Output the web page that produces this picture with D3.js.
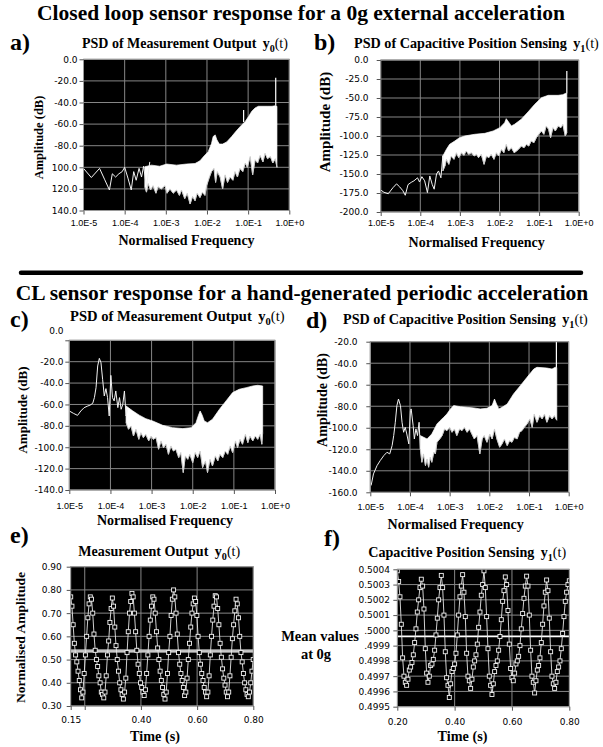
<!DOCTYPE html>
<html><head><meta charset="utf-8">
<script src="https://cdn.jsdelivr.net/npm/d3@7"></script>
<style>body{margin:0;background:#fff}svg{display:block}</style>
</head><body>
<svg id="chart" width="603" height="747"></svg>
<script>
// ---------------- DATA ----------------
const decadeTicks = [1e-5, 1e-4, 1e-3, 1e-2, 1e-1, 1];
const decadeLabels = ["1.0E-5", "1.0E-4", "1.0E-3", "1.0E-2", "1.0E-1", "1.0E+0"];

// Panel a : PSD of measurement output, 0g  (frequencies as log10 of normalised frequency)
const aYTicks = [0, -20, -40, -60, -80, -100, -120, -140];
const aYLabels = ["0.0", "-20.0", "-40.0", "-60.0", "-80.0", "100.0", "120.0", "140.0"];
const aLineLogF = [-5.00,-4.81,-4.61,-4.49,-4.37,-4.30,-4.22,-4.14,-4.06,-4.00,-3.92,-3.84,-3.78,-3.72,-3.65,-3.59,-3.54,-3.47,-3.39];
const aLineDb = [-101,-109.5,-101,-111,-121,-106,-109,-106,-104,-100,-110,-121,-104,-112,-101,-109,-99,-118,-95];
const aUpperLogF = [-3.51,-3.35,-3.15,-2.98,-2.74,-2.50,-2.29,-2.17,-2.07,-1.97,-1.89,-1.85,-1.80,-1.76,-1.70,-1.62,-1.52,-1.40,-1.28,-1.15,-1.07,-0.99,-0.91,-0.83,-0.75,-0.54,-0.42,-0.34,-0.30];
const aUpperDb = [-99.5,-98,-99,-97,-98,-97,-96.5,-94,-89.5,-85.5,-78,-71.5,-70,-74.5,-78.5,-78.5,-76.5,-71.5,-66,-60.5,-57.5,-53,-48,-45,-43.5,-43.5,-43.5,-43,-43.5];
const aLowerLogF = [-3.51,-3.47,-3.43,-3.37,-3.31,-3.24,-3.19,-3.11,-3.02,-2.97,-2.90,-2.82,-2.74,-2.67,-2.62,-2.54,-2.48,-2.41,-2.35,-2.29,-2.24,-2.17,-2.11,-2.05,-2.01,-1.94,-1.89,-1.83,-1.79,-1.75,-1.68,-1.62,-1.56,-1.50,-1.44,-1.37,-1.32,-1.26,-1.20,-1.13,-1.07,-1.02,-0.95,-0.89,-0.83,-0.77,-0.71,-0.64,-0.59,-0.53,-0.46,-0.40,-0.34,-0.30];
const aLowerDb = [-118,-123,-115,-121,-117,-124,-118,-120,-117,-124,-120,-124,-121,-126,-121,-129,-124,-134,-127,-131,-124,-128,-123,-126,-117,-109,-104,-101,-114,-104,-109,-120,-107,-114,-109,-112,-104,-109,-101,-104,-96,-100,-90,-107,-93,-96,-89,-95,-87,-92,-90,-96,-92,-100];
const aSpikeLogF = [-1.11, -0.33];
const aSpikeFrom = [-58, -43];
const aSpikeTo = [-47, -17];

// Panel b : PSD of capacitive position sensing, 0g
const bYTicks = [0, -25, -50, -75, -100, -125, -150, -175, -200];
const bYLabels = ["0.0", "-25.0", "-50.0", "-75.0", "-100.0", "-125.0", "-150.0", "-175.0", "-200.0"];
const bLineLogF = [-5.00,-4.92,-4.81,-4.69,-4.60,-4.52,-4.44,-4.38,-4.31,-4.23,-4.16,-4.07,-4.02,-3.96,-3.89,-3.82,-3.76,-3.70,-3.65,-3.59,-3.54,-3.48,-3.43,-3.38];
const bLineDb = [-171,-174,-176,-168,-163,-167,-172,-178,-164,-161,-159,-155,-160.5,-153.5,-159,-174.5,-152.6,-163.6,-170,-150,-146,-155,-126,-139.5];
const bUpperLogF = [-3.43,-3.34,-3.26,-3.13,-3.01,-2.88,-2.63,-2.37,-2.16,-1.99,-1.87,-1.83,-1.77,-1.70,-1.62,-1.45,-1.28,-1.11,-0.94,-0.77,-0.52,-0.40,-0.33,-0.30];
const bUpperDb = [-126.3,-117.5,-111,-106.6,-102.2,-100,-97.8,-96.5,-93.4,-89,-82.5,-77.2,-81.6,-86.8,-84.6,-78,-68.4,-58.3,-49.6,-46.5,-46.5,-45.6,-43.9,-44];
const bLowerLogF = [-3.43,-3.38,-3.34,-3.28,-3.22,-3.15,-3.09,-3.03,-2.96,-2.90,-2.84,-2.78,-2.71,-2.64,-2.58,-2.53,-2.46,-2.39,-2.33,-2.27,-2.21,-2.14,-2.08,-2.02,-1.95,-1.89,-1.83,-1.77,-1.70,-1.63,-1.57,-1.52,-1.45,-1.38,-1.32,-1.26,-1.20,-1.13,-1.07,-1.01,-0.94,-0.88,-0.82,-0.76,-0.71,-0.65,-0.59,-0.52,-0.45,-0.40,-0.34,-0.30];
const bLowerDb = [-146,-139.5,-130.7,-137.3,-126.3,-130.7,-122,-128.5,-122,-125.4,-119.7,-124.1,-122,-126.3,-124.1,-128.5,-124.1,-137.3,-126.3,-128.5,-124.1,-130.7,-122,-126.3,-117.5,-122,-111,-119.7,-115.4,-122,-119.7,-117.5,-113.2,-115.4,-111,-113.2,-106.6,-108.8,-102.2,-97.8,-93.4,-97.8,-86.8,-91.2,-102.2,-89,-93.4,-86.8,-89,-84.6,-100,-95.6];
const bSpikeLogF = [-0.30];
const bSpikeFrom = [-44];
const bSpikeTo = [-14.5];

// Panel c : PSD of measurement output, periodic acceleration
const cYTicks = [0, -20, -40, -60, -80, -100, -120, -140];
const cYLabels = ["", "-20.0", "-40.0", "-60.0", "-80.0", "-100.0", "-120.0", "-140.0"];
const cTopLabel = "0.0";
const cLineLogF = [-5.00,-4.90,-4.80,-4.72,-4.64,-4.55,-4.50,-4.43,-4.39,-4.35,-4.31,-4.27,-4.23,-4.19,-4.15,-4.11,-4.07,-4.03,-3.99,-3.95,-3.91,-3.87,-3.82,-3.78,-3.74,-3.70,-3.66,-3.62,-3.58];
const cLineDb = [-66.1,-68.3,-70.2,-66.1,-63,-61.4,-60.8,-58.9,-53.6,-44.3,-24,-16.9,-20.9,-36.5,-52.1,-45.2,-53.6,-70.8,-32.8,-53.6,-56.7,-47.4,-63,-53.6,-64.5,-59.9,-47.4,-70.8,-64.5];
const cUpperLogF = [-3.62,-3.46,-3.30,-3.14,-2.97,-2.73,-2.49,-2.24,-2.04,-1.92,-1.86,-1.82,-1.77,-1.72,-1.64,-1.52,-1.35,-1.19,-1.03,-0.87,-0.70,-0.54,-0.42,-0.30];
const cUpperDb = [-61.4,-66,-70,-73.3,-75.5,-79.5,-81.7,-82.6,-81.7,-77,-70,-66.1,-70,-75.5,-77,-73.9,-64.5,-56.7,-48.9,-45.8,-44.3,-42.7,-42.1,-42.7];
const cLowerLogF = [-3.62,-3.56,-3.50,-3.44,-3.38,-3.31,-3.26,-3.20,-3.14,-3.07,-3.01,-2.96,-2.89,-2.83,-2.77,-2.71,-2.65,-2.59,-2.53,-2.47,-2.41,-2.34,-2.29,-2.23,-2.18,-2.12,-2.07,-2.00,-1.94,-1.88,-1.82,-1.76,-1.69,-1.64,-1.58,-1.52,-1.45,-1.39,-1.34,-1.27,-1.21,-1.15,-1.09,-1.03,-0.96,-0.91,-0.85,-0.79,-0.72,-0.66,-0.61,-0.54,-0.48,-0.42,-0.36,-0.32,-0.30];
const cLowerDb = [-77,-83.2,-80.1,-89.5,-83.2,-92.6,-86.4,-91,-87.9,-94.1,-89.5,-92.6,-91,-101.9,-94.1,-100.4,-97.2,-106.6,-98.8,-103.5,-101.9,-109.7,-105,-123.7,-108.1,-111.3,-106.6,-114.4,-105,-109.7,-103.5,-119,-112.8,-123.7,-111.3,-117.5,-108.1,-112.8,-106.6,-109.7,-103.5,-106.6,-98.8,-105,-94.1,-100.4,-92.6,-97.2,-87.9,-95.7,-89.5,-94.1,-89.5,-92.6,-87.9,-97.2,-86.4];
const cSpikeLogF = [];
const cSpikeFrom = [];
const cSpikeTo = [];

// Panel d : PSD of capacitive position sensing, periodic acceleration
const dYTicks = [-20, -40, -60, -80, -100, -120, -140, -160];
const dYLabels = ["-20.0", "-40.0", "-60.0", "-80.0", "-100.0", "-120.0", "-140.0", "-160.0"];
const dLineLogF = [-4.98,-4.92,-4.83,-4.75,-4.66,-4.58,-4.51,-4.45,-4.41,-4.37,-4.33,-4.29,-4.24,-4.20,-4.16,-4.12,-4.08,-4.03,-3.99,-3.97,-3.92,-3.89,-3.85,-3.81,-3.77,-3.74];
const dLineDb = [-153.7,-142.9,-135.2,-130.5,-125.9,-122.8,-124.3,-116.6,-107.3,-94.9,-79.4,-73.3,-79.4,-94.9,-104.2,-99.6,-105.8,-115,-84.1,-82.5,-98,-110.4,-101.1,-107.3,-94.9,-119.7];
const dUpperLogF = [-3.74,-3.57,-3.45,-3.32,-3.24,-3.15,-3.07,-2.98,-2.90,-2.73,-2.56,-2.39,-2.23,-2.06,-1.93,-1.87,-1.82,-1.76,-1.68,-1.55,-1.39,-1.22,-1.05,-0.88,-0.80,-0.55,-0.42,-0.34,-0.30];
const dUpperDb = [-107.3,-110.4,-105.8,-96.5,-93.4,-90.3,-87.2,-82.5,-79.4,-80.4,-81,-81.6,-82.5,-81.9,-79.4,-73.3,-77.9,-82.5,-81,-77.9,-68.6,-60.9,-53.1,-45.4,-43.8,-44.5,-45.4,-43.8,-44];
const dLowerLogF = [-3.74,-3.70,-3.66,-3.61,-3.57,-3.53,-3.49,-3.45,-3.40,-3.36,-3.32,-3.25,-3.19,-3.13,-3.07,-3.00,-2.94,-2.88,-2.82,-2.75,-2.69,-2.63,-2.56,-2.50,-2.44,-2.38,-2.31,-2.24,-2.18,-2.13,-2.06,-1.99,-1.93,-1.87,-1.81,-1.74,-1.68,-1.62,-1.55,-1.49,-1.43,-1.37,-1.30,-1.24,-1.18,-1.12,-1.05,-0.98,-0.92,-0.87,-0.80,-0.73,-0.67,-0.61,-0.55,-0.48,-0.42,-0.36,-0.32,-0.30];
const dLowerDb = [-119.7,-132.1,-124.3,-135.2,-129,-136.7,-127.4,-132.1,-122.8,-124.3,-113.5,-110.4,-107.3,-101.1,-102.7,-99.6,-104.2,-101.1,-107.3,-101.1,-102.7,-99.6,-104.2,-101.1,-105.8,-110.4,-107.3,-124.3,-110.4,-107.3,-113.5,-105.8,-110.4,-101.1,-110.4,-118.1,-115,-110.4,-116.6,-112,-113.5,-108.9,-110.4,-104.2,-102.7,-99.6,-96.5,-91.8,-99.6,-87.2,-94.9,-88.7,-91.8,-87.2,-94.9,-88.7,-91.8,-88.7,-91.8,-93];
const dSpikeLogF = [-0.31];
const dSpikeFrom = [-44];
const dSpikeTo = [-20];

// Panel e : measurement output y0(t), time series
const eStartTime = 0.15;
const eSampleStep = 0.00436;
const eValues = [0.77,0.73,0.65,0.57,0.52,0.49,0.45,0.41,0.37,0.335,
 0.36,0.44,0.52,0.60,0.68,0.74,0.77,
 0.76,0.70,0.61,0.54,0.50,0.47,0.43,0.40,0.36,0.35,0.335,
 0.36,0.43,0.52,0.58,0.66,0.72,0.765,
 0.73,0.64,0.56,0.50,0.45,0.40,0.37,0.35,0.33,
 0.36,0.42,0.53,0.62,0.70,0.75,0.785,
 0.77,0.70,0.62,0.54,0.48,0.44,0.40,0.38,0.36,0.345,
 0.37,0.44,0.52,0.60,0.67,0.73,0.77,
 0.76,0.70,0.62,0.55,0.50,0.45,0.41,0.38,0.35,0.33,
 0.36,0.44,0.53,0.60,0.69,0.76,0.80,
 0.77,0.70,0.61,0.53,0.48,0.44,0.41,0.38,0.345,
 0.36,0.42,0.50,0.57,0.64,0.70,0.74,0.765,
 0.75,0.69,0.60,0.53,0.48,0.44,0.41,0.38,0.36,0.34,
 0.36,0.43,0.52,0.60,0.67,0.73,0.775,
 0.77,0.72,0.65,0.57,0.51,0.46,0.42,0.39,0.36,0.34,
 0.36,0.43,0.51,0.59,0.65,0.71,0.76,
 0.74,0.68,0.60,0.53,0.49,0.44,0.40,0.37,0.35,0.34,
 0.36,0.40,0.45,0.50];
const eMeanLevel = 0.537;
const eYTicks = [0.30, 0.40, 0.50, 0.60, 0.70, 0.80, 0.90];
const eYLabels = ["0.30", "0.40", "0.50", "0.60", "0.70", "0.80", "0.90"];
const eXTicks = [0.15, 0.20, 0.40, 0.60, 0.80];
const eXLabels = ["0.15", "", "0.40", "0.60", "0.80"];
const eXGrid = [0.20, 0.40, 0.60, 0.80];

// Panel f : capacitive position sensing y1(t), time series
const fStartTime = 0.20;
const fSampleStep = 0.004651;
const fValues = [0.50039,
 0.50032,0.50022,0.50004,0.49982,0.49970,0.49966,0.49964,
 0.49968,0.49974,0.49976,0.49979,0.49984,0.49992,0.50001,0.50012,0.50020,0.50028,0.500335,
 0.50029,0.50014,0.49988,0.49972,0.49966,
 0.49970,0.49977,0.49978,0.49981,0.49987,0.49997,0.50008,0.50020,0.50028,0.50036,
 0.50028,0.50010,0.49986,0.49969,0.49964,0.49956,
 0.49965,0.49973,0.49975,0.49978,0.49985,0.49997,0.50010,0.50022,0.50029,0.500365,
 0.50025,0.50009,0.49985,0.49970,0.49967,0.49962,
 0.49968,0.49976,0.49980,0.49984,0.49991,0.50002,0.50012,0.50023,0.50030,0.50039,
 0.50028,0.50009,0.49988,0.49970,0.49964,0.49958,
 0.49965,0.49973,0.49977,0.49980,0.49987,0.49996,0.50007,0.50019,0.50026,0.50035,
 0.50030,0.50013,0.49991,0.49975,0.49969,0.49967,
 0.49972,0.49978,0.49980,0.49983,0.49990,0.50001,0.50011,0.50021,0.50029,0.500355,
 0.50029,0.50010,0.49987,0.49970,0.49966,0.49959,
 0.49967,0.49974,0.49977,0.49982,0.49992,0.50004,0.50016,0.50025,0.50033,
 0.50026,0.50008,0.49986,0.49970,0.49965,0.49962,
 0.49966,0.49973,0.49976,0.49980,0.49988,0.49998,0.50009,0.50019,0.50025,0.50030,0.500325];
const fMeanLevel = 0.49996;
const fYTicks = [0.4995,0.4996,0.4997,0.4998,0.4999,0.5000,0.5001,0.5002,0.5003,0.5004];
const fYLabels = ["0.4995","0.4996","0.4997","0.4998",".4999",".5000","0.5001","0.5002","0.5003","0.5004"];
const fXTicks = [0.20, 0.40, 0.60, 0.80];
const fXLabels = ["0.20", "0.40", "0.60", "0.80"];
const fXGrid = [0.40, 0.60];

// ---------------- DRAWING ----------------
const svg = d3.select("#chart");
const SERIF = "'Liberation Serif','Times New Roman',Times,serif";
const SANS = "'Liberation Sans',Arial,Helvetica,sans-serif";
const YSANS = "'DejaVu Sans','Liberation Sans',sans-serif";
const GRID = "#868686";
const FRAME = "#9a9a9a";
const defs = svg.append("defs");

function addText(x, y, str, size, opts = {}) {
  const t = svg.append("text").attr("x", x).attr("y", y)
    .attr("font-family", opts.family || SERIF).attr("font-size", size)
    .attr("font-weight", opts.weight || "bold").attr("text-anchor", opts.anchor || "start")
    .attr("fill", "#000").text(str);
  if (opts.rotate) t.attr("transform", `rotate(-90,${x},${y})`);
  return t;
}
function addSubtitle(x, y, main, sub, size) {
  const t = svg.append("text").attr("x", x).attr("y", y).attr("font-family", SERIF)
    .attr("font-size", size).attr("font-weight", "bold").attr("fill", "#000");
  t.append("tspan").text(main);
  t.append("tspan").attr("dx", size * 0.45).text("y");
  t.append("tspan").attr("font-size", size * 0.72).attr("dy", size * 0.3).text(sub);
  t.append("tspan").attr("dy", -size * 0.3).attr("font-weight", "normal").text("(t)");
}
function styleAxis(g, family, size) {
  g.select(".domain").remove();
  g.selectAll(".tick line").attr("stroke", "#555");
  g.selectAll(".tick text").attr("font-family", family).attr("font-size", size).attr("fill", "#000");
}

// titles
addText(301, 20, "Closed loop sensor response for a 0g external acceleration", 21.5, {anchor: "middle"});
svg.append("line").attr("x1", 21).attr("x2", 581).attr("y1", 272.7).attr("y2", 272.7)
  .attr("stroke", "#000").attr("stroke-width", 4.5).attr("stroke-linecap", "round");
addText(302, 300, "CL sensor response for a hand-generated periodic acceleration", 21.5, {anchor: "middle"});

function psdPanel(p) {
  const x = d3.scaleLog().domain([1e-5, 1]).range([p.x0, p.x1]);
  const y = d3.scaleLinear().domain([p.yTicks[0], p.yTicks[p.yTicks.length - 1]]).range([p.y0, p.y1]);
  const F = v => Math.pow(10, v);
  const id = "clip" + p.key;
  defs.append("clipPath").attr("id", id).append("rect")
    .attr("x", p.x0).attr("y", p.y0 - 40).attr("width", p.x1 - p.x0).attr("height", p.y1 - p.y0 + 40);
  const g = svg.append("g");
  g.append("rect").attr("x", p.x0).attr("y", p.y0).attr("width", p.x1 - p.x0).attr("height", p.y1 - p.y0).attr("fill", "#000");
  g.selectAll(".vg").data(decadeTicks).join("line")
    .attr("x1", d => x(d)).attr("x2", d => x(d)).attr("y1", p.y0).attr("y2", p.y1)
    .attr("stroke", GRID).attr("stroke-width", 1);
  g.selectAll(".hg").data(p.yTicks).join("line")
    .attr("x1", p.x0).attr("x2", p.x1).attr("y1", d => y(d)).attr("y2", d => y(d))
    .attr("stroke", GRID).attr("stroke-width", 1);
  const dg = g.append("g").attr("clip-path", `url(#${id})`);
  const line = d3.line().x(d => x(F(d[0]))).y(d => y(d[1]));
  const upper = p.upperLogF.map((f, i) => [f, p.upperDb[i]]);
  const lower = p.lowerLogF.map((f, i) => [f, p.lowerDb[i]]);
  dg.append("path").attr("d", line(upper.concat(lower.slice().reverse())) + "Z")
    .attr("fill", "#fff").attr("stroke", "#fff").attr("stroke-width", 0.7).attr("stroke-linejoin", "round");
  dg.append("path").attr("d", line(lower)).attr("fill", "none").attr("stroke", "#c8c8c8").attr("stroke-width", 0.8);
  dg.append("path").attr("d", line(p.lineLogF.map((f, i) => [f, p.lineDb[i]])))
    .attr("fill", "none").attr("stroke", "#f2f2f2").attr("stroke-width", 1);
  dg.selectAll(".spk").data(p.spikeLogF).join("line")
    .attr("x1", d => x(F(d))).attr("x2", d => x(F(d)))
    .attr("y1", (d, i) => y(p.spikeFrom[i])).attr("y2", (d, i) => y(p.spikeTo[i]))
    .attr("stroke", "#fff").attr("stroke-width", 1.2);
  g.append("rect").attr("x", p.x0).attr("y", p.y0).attr("width", p.x1 - p.x0).attr("height", p.y1 - p.y0)
    .attr("fill", "none").attr("stroke", FRAME).attr("stroke-width", 1);
  const ya = g.append("g").attr("transform", `translate(${p.x0},0)`)
    .call(d3.axisLeft(y).tickValues(p.yTicks).tickFormat((d, i) => p.yLabels[i]).tickSize(4).tickPadding(p.x0 - 4 - p.yLabelRight));
  styleAxis(ya, YSANS, 9);
  if (p.topLabel) {
    // in the picture this top tick label sits a little above its tick
    svg.append("text").attr("x", p.yLabelRight).attr("y", y(p.yTicks[0]) + p.topLabelShift)
      .attr("text-anchor", "end").attr("font-family", YSANS)
      .attr("font-size", 9).attr("fill", "#000").text(p.topLabel);
  }
  const xa = g.append("g").attr("transform", `translate(0,${p.y1})`)
    .call(d3.axisBottom(x).tickValues(decadeTicks).tickFormat((d, i) => decadeLabels[i]).tickSize(4).tickPadding(p.xPad));
  styleAxis(xa, SANS, 9);
  addText(p.letterX, p.letterY, p.letter, 24);
  addSubtitle(p.subX, p.subY, p.subMain, p.subSub, p.subSize);
  addText(p.ylabX, p.ylabY, "Amplitude (dB)", p.ylabSize, {anchor: "middle", rotate: true});
  addText(p.xlabX, p.xlabY, "Normalised Frequency", 14, {anchor: "middle"});
}

psdPanel({key: "a", x0: 83.5, x1: 289.3, y0: 59.3, y1: 210.5, yTicks: aYTicks, yLabels: aYLabels, yLabelRight: 77.5, xPad: 5,
  lineLogF: aLineLogF, lineDb: aLineDb, upperLogF: aUpperLogF, upperDb: aUpperDb, lowerLogF: aLowerLogF, lowerDb: aLowerDb,
  spikeLogF: aSpikeLogF, spikeFrom: aSpikeFrom, spikeTo: aSpikeTo,
  letter: "a)", letterX: 10, letterY: 50, subX: 82, subY: 47.5, subMain: "PSD of Measurement Output", subSub: "0", subSize: 14,
  ylabX: 42.5, ylabY: 137.5, ylabSize: 12.5, xlabX: 186.5, xlabY: 245});
psdPanel({key: "b", x0: 380.7, x1: 578.7, y0: 60, y1: 212, yTicks: bYTicks, yLabels: bYLabels, yLabelRight: 368.5, xPad: 3.5,
  lineLogF: bLineLogF, lineDb: bLineDb, upperLogF: bUpperLogF, upperDb: bUpperDb, lowerLogF: bLowerLogF, lowerDb: bLowerDb,
  spikeLogF: bSpikeLogF, spikeFrom: bSpikeFrom, spikeTo: bSpikeTo,
  letter: "b)", letterX: 314, letterY: 50, subX: 354, subY: 48, subMain: "PSD of Capacitive Position Sensing", subSub: "1", subSize: 14.2,
  ylabX: 330, ylabY: 122, ylabSize: 15, xlabX: 476.7, xlabY: 247});
psdPanel({key: "c", x0: 69.3, x1: 275, y0: 340.3, y1: 490, yTicks: cYTicks, yLabels: cYLabels, yLabelRight: 63.5, xPad: 8.7,
  topLabel: cTopLabel, topLabelShift: -6,
  lineLogF: cLineLogF, lineDb: cLineDb, upperLogF: cUpperLogF, upperDb: cUpperDb, lowerLogF: cLowerLogF, lowerDb: cLowerDb,
  spikeLogF: cSpikeLogF, spikeFrom: cSpikeFrom, spikeTo: cSpikeTo,
  letter: "c)", letterX: 10, letterY: 327, subX: 70, subY: 320.5, subMain: "PSD of Measurement Output", subSub: "0", subSize: 14.6,
  ylabX: 26.5, ylabY: 410, ylabSize: 13, xlabX: 165, xlabY: 525});
psdPanel({key: "d", x0: 370.3, x1: 568.7, y0: 341.7, y1: 492.3, yTicks: dYTicks, yLabels: dYLabels, yLabelRight: 357.5, xPad: 7,
  lineLogF: dLineLogF, lineDb: dLineDb, upperLogF: dUpperLogF, upperDb: dUpperDb, lowerLogF: dLowerLogF, lowerDb: dLowerDb,
  spikeLogF: dSpikeLogF, spikeFrom: dSpikeFrom, spikeTo: dSpikeTo,
  letter: "d)", letterX: 306, letterY: 328, subX: 343, subY: 324, subMain: "PSD of Capacitive Position Sensing", subSub: "1", subSize: 14.2,
  ylabX: 327, ylabY: 400, ylabSize: 14, xlabX: 455.7, xlabY: 528.5});

function timePanel(p) {
  const x = d3.scaleLinear().domain(p.xDomain).range([p.x0, p.x1]);
  const y = d3.scaleLinear().domain(p.yDomain).range([p.y1, p.y0]);
  const id = "clip" + p.key;
  defs.append("clipPath").attr("id", id).append("rect")
    .attr("x", p.x0).attr("y", p.y0).attr("width", p.x1 - p.x0).attr("height", p.y1 - p.y0);
  const g = svg.append("g");
  g.append("rect").attr("x", p.x0).attr("y", p.y0).attr("width", p.x1 - p.x0).attr("height", p.y1 - p.y0).attr("fill", "#000");
  g.selectAll(".vg").data(p.xGrid).join("line")
    .attr("x1", d => x(d)).attr("x2", d => x(d)).attr("y1", p.y0).attr("y2", p.y1).attr("stroke", GRID);
  g.selectAll(".hg").data(p.yTicks).join("line")
    .attr("x1", p.x0).attr("x2", p.x1).attr("y1", d => y(d)).attr("y2", d => y(d)).attr("stroke", GRID);
  const dg = g.append("g").attr("clip-path", `url(#${id})`);
  dg.append("line").attr("x1", p.x0).attr("x2", p.x1).attr("y1", y(p.mean)).attr("y2", y(p.mean))
    .attr("stroke", "#fff").attr("stroke-width", p.meanWidth);
  if (p.meanInner) dg.append("line").attr("x1", p.x0).attr("x2", p.x1).attr("y1", y(p.mean)).attr("y2", y(p.mean))
    .attr("stroke", "#8a8a8a").attr("stroke-width", 1);
  const pts = p.values.map((v, i) => [p.start + i * p.step, v]);
  dg.append("path").attr("d", d3.line().x(d => x(d[0])).y(d => y(d[1]))(pts))
    .attr("fill", "none").attr("stroke", "#e6e6e6").attr("stroke-width", 0.9);
  dg.selectAll(".mk").data(pts).join("rect")
    .attr("x", d => x(d[0]) - 2).attr("y", d => y(d[1]) - 2).attr("width", 4).attr("height", 4)
    .attr("fill", "#000").attr("stroke", "#f4f4f4").attr("stroke-width", 0.9);
  g.append("rect").attr("x", p.x0).attr("y", p.y0).attr("width", p.x1 - p.x0).attr("height", p.y1 - p.y0)
    .attr("fill", "none").attr("stroke", FRAME);
  const ya = g.append("g").attr("transform", `translate(${p.x0},0)`)
    .call(d3.axisLeft(y).tickValues(p.yTicks).tickFormat((d, i) => p.yLabels[i]).tickSize(4).tickPadding(p.x0 - 4 - p.yLabelRight));
  styleAxis(ya, YSANS, 9);
  const xa = g.append("g").attr("transform", `translate(0,${p.y1})`)
    .call(d3.axisBottom(x).tickValues(p.xTicks).tickFormat((d, i) => p.xLabels[i]).tickSize(4).tickPadding(p.xPad));
  styleAxis(xa, YSANS, 9);
  addText(p.letterX, p.letterY, p.letter, 24);
  addSubtitle(p.subX, p.subY, p.subMain, p.subSub, 14.1);
  addText(p.timeX, 741, "Time (s)", 14.2, {anchor: "middle"});
}

timePanel({key: "e", x0: 70.7, x1: 253.3, y0: 566.7, y1: 706, xDomain: [0.15, 0.80], yDomain: [0.30, 0.90],
  xGrid: eXGrid, yTicks: eYTicks, yLabels: eYLabels, xTicks: eXTicks, xLabels: eXLabels, yLabelRight: 61.7, xPad: 6.7,
  values: eValues, start: eStartTime, step: eSampleStep, mean: eMeanLevel, meanWidth: 3.2, meanInner: true,
  letter: "e)", letterX: 10, letterY: 543, subX: 78.3, subY: 556, subMain: "Measurement Output", subSub: "0", timeX: 155});
timePanel({key: "f", x0: 397.3, x1: 569.3, y0: 569.3, y1: 706.7, xDomain: [0.20, 0.80], yDomain: [0.4995, 0.5004],
  xGrid: fXGrid, yTicks: fYTicks, yLabels: fYLabels, xTicks: fXTicks, xLabels: fXLabels, yLabelRight: 390, xPad: 7.7,
  values: fValues, start: fStartTime, step: fSampleStep, mean: fMeanLevel, meanWidth: 1.8, meanInner: false,
  letter: "f)", letterX: 324, letterY: 546, subX: 368.3, subY: 557, subMain: "Capacitive Position Sensing", subSub: "1", timeX: 462.5});

addText(25, 637.5, "Normalised Amplitude", 13.5, {anchor: "middle", rotate: true});
addText(320, 641, "Mean values", 14.5, {anchor: "middle"});
addText(316, 659, "at 0g", 14.5, {anchor: "middle"});
</script>
</body></html>
